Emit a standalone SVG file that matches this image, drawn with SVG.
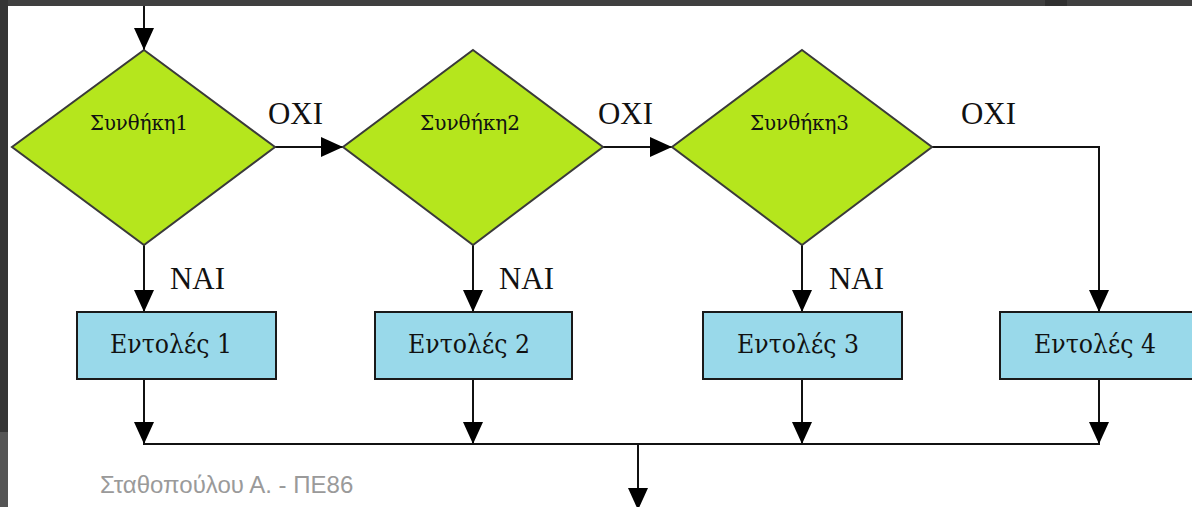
<svg xmlns="http://www.w3.org/2000/svg" width="1192" height="507" viewBox="0 0 1192 507">
  <defs>
    <style>
      .dec { fill: #b5e61d; stroke: #3a3a3a; stroke-width: 2; }
      .box { fill: #99d9ea; stroke: #1a1a1a; stroke-width: 2; }
      .wire { fill: none; stroke: #111; stroke-width: 2; }
      .cond { font-family: "DejaVu Serif", "Liberation Serif", serif; font-size: 21px; fill: #111; }
      .lbl { font-family: "Liberation Serif", "DejaVu Serif", serif; font-size: 31px; fill: #111; }
      .act { font-family: "DejaVu Serif", "Liberation Serif", serif; font-size: 26px; fill: #111; }
      .foot { font-family: "Liberation Sans", Arial, sans-serif; font-size: 24px; fill: #9a9a9a; }
    </style>
    <marker id="arr" viewBox="0 0 22 20" refX="22" refY="10" markerWidth="22" markerHeight="20" markerUnits="userSpaceOnUse" orient="auto">
      <path d="M0,0 L22,10 L0,20 Z" fill="#000"/>
    </marker>
  </defs>

  <!-- page background and frame strips -->
  <rect x="0" y="0" width="1192" height="507" fill="#ffffff"/>
  <rect x="0" y="0" width="1192" height="6" fill="#404040"/>
  <rect x="1045" y="0" width="22" height="6" fill="#303030"/>
  <rect x="0" y="0" width="8" height="432" fill="#353535"/>
  <rect x="0" y="432" width="8" height="75" fill="#555555"/>

  <!-- connectors -->
  <g id="connectors">
    <line class="wire" x1="144" y1="6" x2="144" y2="50" marker-end="url(#arr)"/>
    <line class="wire" x1="273" y1="147" x2="343" y2="147" marker-end="url(#arr)"/>
    <line class="wire" x1="602" y1="147" x2="672" y2="147" marker-end="url(#arr)"/>
    <polyline class="wire" points="932,147 1099,147 1099,312" marker-end="url(#arr)"/>
    <line class="wire" x1="144" y1="245" x2="144" y2="312" marker-end="url(#arr)"/>
    <line class="wire" x1="473" y1="245" x2="473" y2="312" marker-end="url(#arr)"/>
    <line class="wire" x1="802" y1="245" x2="802" y2="312" marker-end="url(#arr)"/>
    <line class="wire" x1="144" y1="379" x2="144" y2="444" marker-end="url(#arr)"/>
    <line class="wire" x1="473" y1="379" x2="473" y2="444" marker-end="url(#arr)"/>
    <line class="wire" x1="802" y1="379" x2="802" y2="444" marker-end="url(#arr)"/>
    <line class="wire" x1="1099" y1="379" x2="1099" y2="444" marker-end="url(#arr)"/>
    <line class="wire" x1="143" y1="444" x2="1100" y2="444"/>
    <line class="wire" x1="638" y1="444" x2="638" y2="510" marker-end="url(#arr)"/>
    <text class="lbl" x="268" y="124" textLength="55" lengthAdjust="spacingAndGlyphs">OXI</text>
    <text class="lbl" x="598" y="124" textLength="55" lengthAdjust="spacingAndGlyphs">OXI</text>
    <text class="lbl" x="961" y="124" textLength="55" lengthAdjust="spacingAndGlyphs">OXI</text>
    <text class="lbl" x="170" y="289" textLength="55" lengthAdjust="spacingAndGlyphs">NAI</text>
    <text class="lbl" x="499" y="289" textLength="55" lengthAdjust="spacingAndGlyphs">NAI</text>
    <text class="lbl" x="829" y="289" textLength="55" lengthAdjust="spacingAndGlyphs">NAI</text>
  </g>

  <!-- decisions -->
  <g id="cond1">
    <polygon class="dec" points="144,50 275,147 144,245 12,147"/>
    <text class="cond" x="90" y="130" textLength="98" lengthAdjust="spacingAndGlyphs">Συνθήκη1</text>
  </g>
  <g id="cond2">
    <polygon class="dec" points="473,50 603,147 473,245 343,147"/>
    <text class="cond" x="420" y="130" textLength="100" lengthAdjust="spacingAndGlyphs">Συνθήκη2</text>
  </g>
  <g id="cond3">
    <polygon class="dec" points="802,50 932,147 802,245 672,147"/>
    <text class="cond" x="750" y="130" textLength="99" lengthAdjust="spacingAndGlyphs">Συνθήκη3</text>
  </g>

  <!-- actions -->
  <g id="act1">
    <rect class="box" x="77" y="312" width="199" height="67"/>
    <text class="act" x="110" y="353" textLength="122" lengthAdjust="spacingAndGlyphs">Εντολές 1</text>
  </g>
  <g id="act2">
    <rect class="box" x="375" y="312" width="197" height="67"/>
    <text class="act" x="408" y="353" textLength="122" lengthAdjust="spacingAndGlyphs">Εντολές 2</text>
  </g>
  <g id="act3">
    <rect class="box" x="703" y="312" width="199" height="67"/>
    <text class="act" x="737" y="353" textLength="122" lengthAdjust="spacingAndGlyphs">Εντολές 3</text>
  </g>
  <g id="act4">
    <rect class="box" x="1000" y="312" width="200" height="67"/>
    <text class="act" x="1034" y="353" textLength="122" lengthAdjust="spacingAndGlyphs">Εντολές 4</text>
  </g>

  <text class="foot" x="100" y="493">Σταθοπούλου Α. - ΠΕ86</text>
</svg>
